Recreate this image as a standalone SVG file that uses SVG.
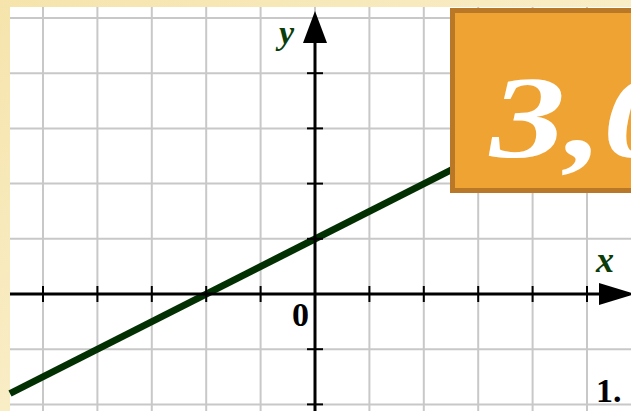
<svg xmlns="http://www.w3.org/2000/svg" width="631" height="411" viewBox="0 0 631 411">
  <defs>
    <linearGradient id="paper" x1="0" y1="0" x2="1" y2="1">
      <stop offset="0" stop-color="#f6e4ac"/>
      <stop offset="0.5" stop-color="#f9edc6"/>
      <stop offset="1" stop-color="#f5e2a8"/>
    </linearGradient>
  </defs>
  <style>
    .grid line { stroke: #c8c8c8; stroke-width: 2; }
    .axis { stroke: #000; stroke-width: 3; }
    .tick { stroke: #000; stroke-width: 2; }
    .lbl { font-family: "Liberation Serif", "Times New Roman", serif; font-weight: bold; }
  </style>
  <rect x="0" y="0" width="631" height="411" fill="url(#paper)"/>
  <rect x="10" y="7" width="621" height="404" fill="#ffffff"/>
  <g id="grid" class="grid">
    <line x1="43" y1="7" x2="43" y2="411"/>
    <line x1="97.4" y1="7" x2="97.4" y2="411"/>
    <line x1="151.8" y1="7" x2="151.8" y2="411"/>
    <line x1="206.2" y1="7" x2="206.2" y2="411"/>
    <line x1="260.6" y1="7" x2="260.6" y2="411"/>
    <line x1="315" y1="7" x2="315" y2="411"/>
    <line x1="369.4" y1="7" x2="369.4" y2="411"/>
    <line x1="423.8" y1="7" x2="423.8" y2="411"/>
    <line x1="478.2" y1="7" x2="478.2" y2="411"/>
    <line x1="532.6" y1="7" x2="532.6" y2="411"/>
    <line x1="587" y1="7" x2="587" y2="411"/>
    <line x1="10" y1="18" x2="631" y2="18"/>
    <line x1="10" y1="73.2" x2="631" y2="73.2"/>
    <line x1="10" y1="128.4" x2="631" y2="128.4"/>
    <line x1="10" y1="183.6" x2="631" y2="183.6"/>
    <line x1="10" y1="238.8" x2="631" y2="238.8"/>
    <line x1="10" y1="294" x2="631" y2="294"/>
    <line x1="10" y1="349.2" x2="631" y2="349.2"/>
    <line x1="10" y1="404.4" x2="631" y2="404.4"/>
  </g>
  <g id="graph-line">
    <line x1="10" y1="393.5" x2="455" y2="168" stroke="#033003" stroke-width="7"/>
  </g>
  <g id="axes">
    <line class="axis" x1="10" y1="294" x2="602" y2="294"/>
    <polygon points="599,283 599,305 635,294" fill="#000"/>
    <line class="axis" x1="315" y1="40" x2="315" y2="411"/>
    <polygon points="303,43 327,43 315,11" fill="#000"/>
    <g class="tick">
      <line x1="43" y1="286" x2="43" y2="302"/>
      <line x1="97.4" y1="286" x2="97.4" y2="302"/>
      <line x1="151.8" y1="286" x2="151.8" y2="302"/>
      <line x1="206.2" y1="286" x2="206.2" y2="302"/>
      <line x1="260.6" y1="286" x2="260.6" y2="302"/>
      <line x1="369.4" y1="286" x2="369.4" y2="302"/>
      <line x1="423.8" y1="286" x2="423.8" y2="302"/>
      <line x1="478.2" y1="286" x2="478.2" y2="302"/>
      <line x1="532.6" y1="286" x2="532.6" y2="302"/>
      <line x1="587" y1="286" x2="587" y2="302"/>
      <line x1="307" y1="73.2" x2="323" y2="73.2"/>
      <line x1="307" y1="128.4" x2="323" y2="128.4"/>
      <line x1="307" y1="183.6" x2="323" y2="183.6"/>
      <line x1="307" y1="238.8" x2="323" y2="238.8"/>
      <line x1="307" y1="349.2" x2="323" y2="349.2"/>
      <line x1="307" y1="404.4" x2="323" y2="404.4"/>
    </g>
  </g>
  <g id="labels">
    <text class="lbl" x="279" y="44" font-size="34" font-style="italic" fill="#0b3d0b">y</text>
    <text class="lbl" x="596" y="272" font-size="36" font-style="italic" fill="#0b3d0b">x</text>
    <text class="lbl" x="292" y="326" font-size="34" fill="#000">0</text>
    <text class="lbl" x="596" y="402" font-size="34" fill="#000">1.</text>
  </g>
  <g id="badge">
    <rect x="452.5" y="10.5" width="190" height="180" fill="#efa332" stroke="#b87828" stroke-width="5"/>
    <text class="lbl" transform="translate(490,157) scale(1.3,1)" x="0" y="0" font-size="116" font-style="italic" fill="#ffffff">3,0</text>
  </g>
</svg>
